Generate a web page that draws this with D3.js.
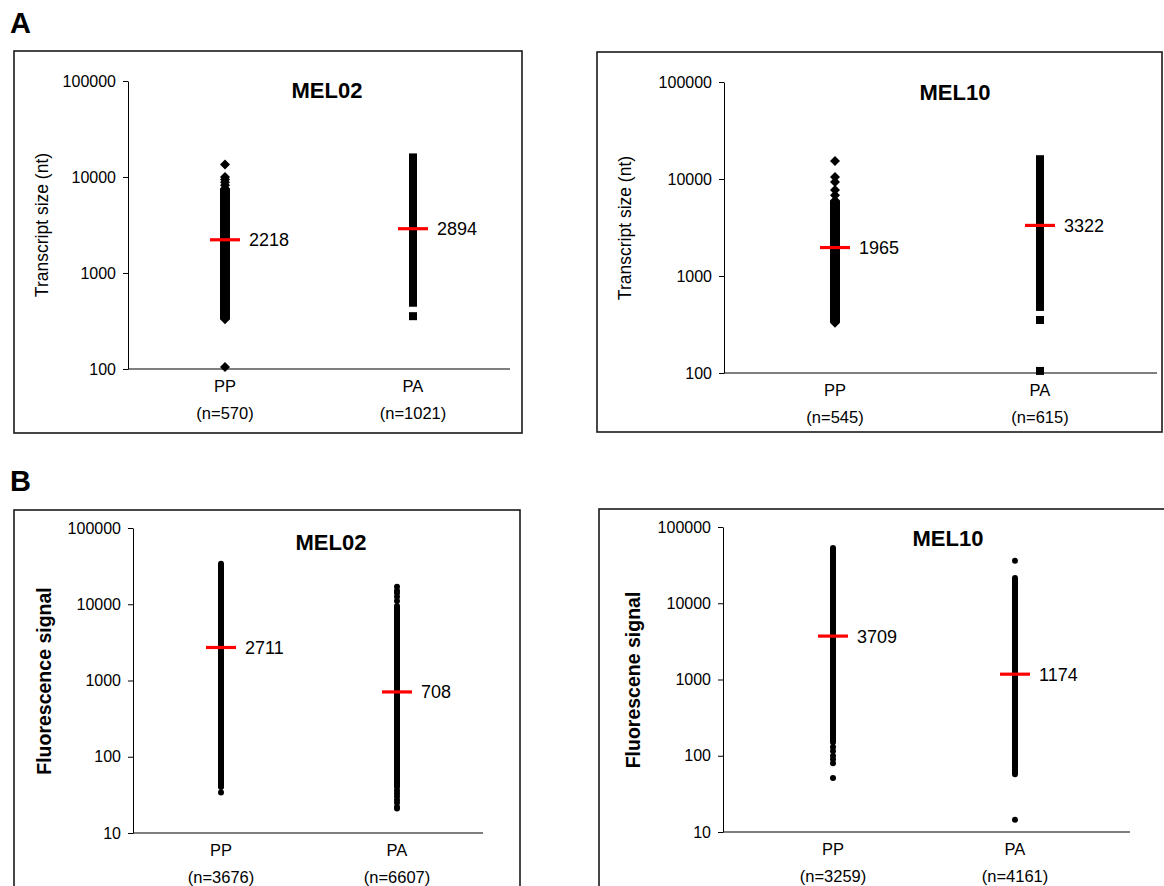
<!DOCTYPE html>
<html>
<head>
<meta charset="utf-8">
<script src="https://cdn.jsdelivr.net/npm/d3@7"></script>
<style>
  body { margin: 0; background: #fff; }
  text { font-family: Arial, "Liberation Sans", sans-serif; fill: #000; }
</style>
</head>
<body>
<script>
// ---- data ----
const groups = ["PP", "PA"];
const sizeTicks = [100, 1000, 10000, 100000];
const signalTicks = [10, 100, 1000, 10000, 100000];

// A: transcript size (nt)
const mel02SizeN = [570, 1021];
const mel02SizeMedian = [2218, 2894];
const mel02SizeRange = [[330, 7600], [490, 16000]];
const mel02SizePoints = [[13500, 10000, 9400, 8800, 8200, 105], [355]];

const mel10SizeN = [545, 615];
const mel10SizeMedian = [1965, 3322];
const mel10SizeRange = [[330, 6000], [480, 16000]];
const mel10SizePoints = [[15300, 10500, 9300, 7700, 6800], [352, 105]];

// B: fluorescence signal
const mel02SignalN = [3676, 6607];
const mel02SignalMedian = [2711, 708];
const mel02SignalRange = [[44, 34000], [40, 9500]];
const mel02SignalPoints = [[42, 40, 34], [17000, 15000, 14000, 12500, 11000, 36, 33, 30, 27, 25, 22, 21]];

const mel10SignalN = [3259, 4161];
const mel10SignalMedian = [3709, 1174];
const mel10SignalRange = [[150, 53000], [57, 21500]];
const mel10SignalPoints = [[130, 115, 100, 90, 80, 51], [36000, 14.5]];

let svg = d3.select("body")
            .append("svg")
            .attr("width", 1164)
            .attr("height", 886);

svg.append("text").attr("x", 10).attr("y", 33)
   .attr("font-size", 29).attr("font-weight", "bold").text("A");
svg.append("text").attr("x", 10).attr("y", 491)
   .attr("font-size", 29).attr("font-weight", "bold").text("B");

let marker = function(g, shape, cx, cy, s) {
  if (shape == "diamond") {
    g.append("path")
     .attr("d", `M${cx},${cy - s}L${cx + s},${cy}L${cx},${cy + s}L${cx - s},${cy}Z`);
  } else if (shape == "square") {
    g.append("rect").attr("x", cx - s).attr("y", cy - s)
     .attr("width", 2 * s).attr("height", 2 * s);
  } else {
    g.append("circle").attr("cx", cx).attr("cy", cy).attr("r", s);
  }
};

let drawPanel = function(p) {
  let g = svg.append("g");

  g.append("rect")
   .attr("x", p.box[0]).attr("y", p.box[1])
   .attr("width", p.box[2]).attr("height", p.box[3])
   .attr("fill", "none").attr("stroke", "#1a1a1a").attr("stroke-width", 1.6);

  let y = d3.scaleLog().domain(p.domain).range([p.bottom, p.top]);
  let x = d3.scalePoint().domain(groups).range(p.cols);

  let axis = g.append("g")
              .attr("transform", `translate(${p.axisX},0)`)
              .call(d3.axisLeft(y)
                      .tickValues(p.ticks)
                      .tickFormat(d3.format("d"))
                      .tickSize(5)
                      .tickSizeOuter(0)
                      .tickPadding(7));
  axis.selectAll("path, line").attr("stroke", "#000");
  axis.selectAll("text").attr("font-size", 16)
      .style("font-family", "Arial, 'Liberation Sans', sans-serif");

  g.append("line")
   .attr("x1", p.axisX).attr("x2", p.xEnd)
   .attr("y1", p.bottom).attr("y2", p.bottom)
   .attr("stroke", "#000").attr("stroke-width", 1.2);

  g.append("text")
   .attr("x", p.title[0]).attr("y", p.title[1])
   .attr("text-anchor", "middle").attr("font-size", 22).attr("font-weight", "bold")
   .text(p.name);

  g.append("text")
   .attr("transform", `translate(${p.ylabel[0]},${p.ylabel[1]}) rotate(-90)`)
   .attr("text-anchor", "middle").attr("font-size", p.ylabelBold ? 19.5 : 17.5)
   .attr("font-weight", p.ylabelBold ? "bold" : "normal")
   .text(p.ylabelText);

  groups.forEach(function(grp, i) {
    let cx = x(grp);
    let shape = p.shapes[i];
    let s = p.sizes[i];
    let dots = g.append("g").attr("fill", "#000");

    // dense part of the strip
    let lo = p.range[i][0], hi = p.range[i][1];
    dots.append("rect")
        .attr("x", cx - s).attr("width", 2 * s)
        .attr("y", y(hi)).attr("height", y(lo) - y(hi));
    marker(dots, shape, cx, y(hi), s);
    marker(dots, shape, cx, y(lo), s);

    // sparse / outlying points
    p.points[i].forEach(function(v) {
      marker(dots, shape, cx, y(v), s);
    });

    // median
    let my = y(p.median[i]);
    g.append("line")
     .attr("x1", cx - 15).attr("x2", cx + 15)
     .attr("y1", my).attr("y2", my)
     .attr("stroke", "#ff0000").attr("stroke-width", 3.2);
    g.append("text")
     .attr("x", cx + 24).attr("y", my + 6.5)
     .attr("font-size", 18)
     .text(p.median[i]);

    g.append("text")
     .attr("x", cx).attr("y", p.bottom + 23)
     .attr("text-anchor", "middle").attr("font-size", 16.5)
     .text(grp);
    g.append("text")
     .attr("x", cx).attr("y", p.bottom + 50)
     .attr("text-anchor", "middle").attr("font-size", 16.5)
     .text("(n=" + p.n[i] + ")");
  });
};

drawPanel({
  name: "MEL02", box: [14, 51, 508, 382],
  axisX: 128, xEnd: 510, top: 81, bottom: 369, cols: [225, 413],
  domain: [100, 100000], ticks: sizeTicks,
  title: [327, 98], ylabel: [48, 225], ylabelText: "Transcript size (nt)", ylabelBold: false,
  shapes: ["diamond", "square"], sizes: [5, 4],
  n: mel02SizeN, median: mel02SizeMedian, range: mel02SizeRange, points: mel02SizePoints
});

drawPanel({
  name: "MEL10", box: [597, 52, 565, 380],
  axisX: 724, xEnd: 1157, top: 82, bottom: 373, cols: [835, 1040],
  domain: [100, 100000], ticks: sizeTicks,
  title: [955, 100], ylabel: [631, 228], ylabelText: "Transcript size (nt)", ylabelBold: false,
  shapes: ["diamond", "square"], sizes: [5, 4],
  n: mel10SizeN, median: mel10SizeMedian, range: mel10SizeRange, points: mel10SizePoints
});

drawPanel({
  name: "MEL02", box: [14, 510, 506, 390],
  axisX: 133, xEnd: 483, top: 528, bottom: 833, cols: [221, 397],
  domain: [10, 100000], ticks: signalTicks,
  title: [331, 550], ylabel: [51, 681], ylabelText: "Fluorescence signal", ylabelBold: true,
  shapes: ["circle", "circle"], sizes: [3, 3],
  n: mel02SignalN, median: mel02SignalMedian, range: mel02SignalRange, points: mel02SignalPoints
});

drawPanel({
  name: "MEL10", box: [599, 509, 580, 390],
  axisX: 723, xEnd: 1130, top: 527, bottom: 832, cols: [833, 1015],
  domain: [10, 100000], ticks: signalTicks,
  title: [948, 546], ylabel: [640, 680], ylabelText: "Fluorescene signal", ylabelBold: true,
  shapes: ["circle", "circle"], sizes: [3, 3],
  n: mel10SignalN, median: mel10SignalMedian, range: mel10SignalRange, points: mel10SignalPoints
});
</script>
</body>
</html>
